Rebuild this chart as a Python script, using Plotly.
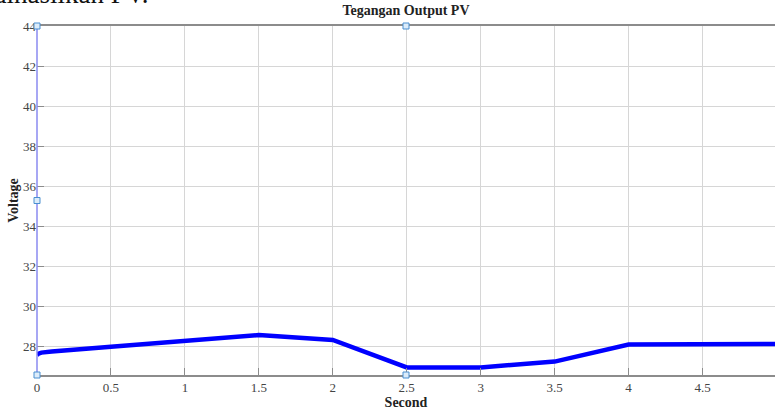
import plotly.graph_objects as go

time_s = [0.0, 0.01, 0.03, 0.06, 0.1, 0.5, 1.0, 1.5, 2.0, 2.5, 3.0, 3.5, 4.0, 4.5, 5.0]
voltage = [27.55, 27.62, 27.67, 27.7, 27.72, 27.96, 28.25, 28.55, 28.3, 26.93, 26.93, 27.22, 28.07, 28.08, 28.1]

x_ticks = [0, 0.5, 1, 1.5, 2, 2.5, 3, 3.5, 4, 4.5]
x_tick_text = ["0", "0.5", "1", "1.5", "2", "2.5", "3", "3.5", "4", "4.5"]
y_ticks = [28, 30, 32, 34, 36, 38, 40, 42, 44]

serif = "Liberation Serif, Times New Roman, serif"

fig = go.Figure()
fig.add_trace(go.Scatter(x=time_s, y=voltage, mode="lines",
                         line=dict(color="#0000ff", width=4.5),
                         showlegend=False))

fig.update_layout(
    width=775, height=412,
    margin=dict(l=37, r=0, t=26, b=37),
    paper_bgcolor="white", plot_bgcolor="white",
    font=dict(family=serif, size=13, color="#333333"),
    title=dict(text="<b>Tegangan Output PV</b>", x=0.5, xref="paper",
               y=1, yref="container", yanchor="top", pad=dict(t=5),
               font=dict(family=serif, size=14, color="#222222")),
    xaxis=dict(range=[0, 4.99], tickvals=x_ticks, ticktext=x_tick_text,
               showgrid=True, gridcolor="#d6d6d6", gridwidth=1,
               showline=True, linecolor="#8c8c8c", linewidth=1.5, mirror=True,
               ticks="inside", ticklen=7, tickcolor="#8c8c8c",
               zeroline=False,
               title=dict(text="<b>Second</b>", standoff=3,
                          font=dict(family=serif, size=14, color="#222222")),
               tickfont=dict(family=serif, size=13, color="#444444")),
    yaxis=dict(range=[26.55, 44], tickvals=y_ticks,
               showgrid=True, gridcolor="#d6d6d6", gridwidth=1,
               showline=False,
               ticks="inside", ticklen=7, tickcolor="#8c8c8c",
               zeroline=False,
               title=dict(text="<b>Voltage</b>", standoff=1,
                          font=dict(family=serif, size=14, color="#222222")),
               tickfont=dict(family=serif, size=13, color="#444444")),
)

# selection border (left) and handles from the embedded picture
fig.add_shape(type="line", xref="paper", yref="paper", x0=0, x1=0, y0=0, y1=1,
              line=dict(color="#8a8af0", width=1.5))
for hx, hy in [(0, 1), (0.5, 1), (0, 0.5), (0.5, 0), (0, 0)]:
    fig.add_shape(type="rect", xref="paper", yref="paper",
                  x0=hx - 3 / 738, x1=hx + 3 / 738,
                  y0=hy - 3 / 349, y1=hy + 3 / 349,
                  line=dict(color="#4a8fd0", width=1), fillcolor="#dcecfa")

# cut-off document text above the figure
fig.add_annotation(text="dihasilkan PV.", xref="paper", yref="paper",
                   x=-0.062, y=1.042, xanchor="left", yanchor="bottom",
                   showarrow=False,
                   font=dict(family=serif, size=27, color="#111111"))

fig.write_html("out.html")
